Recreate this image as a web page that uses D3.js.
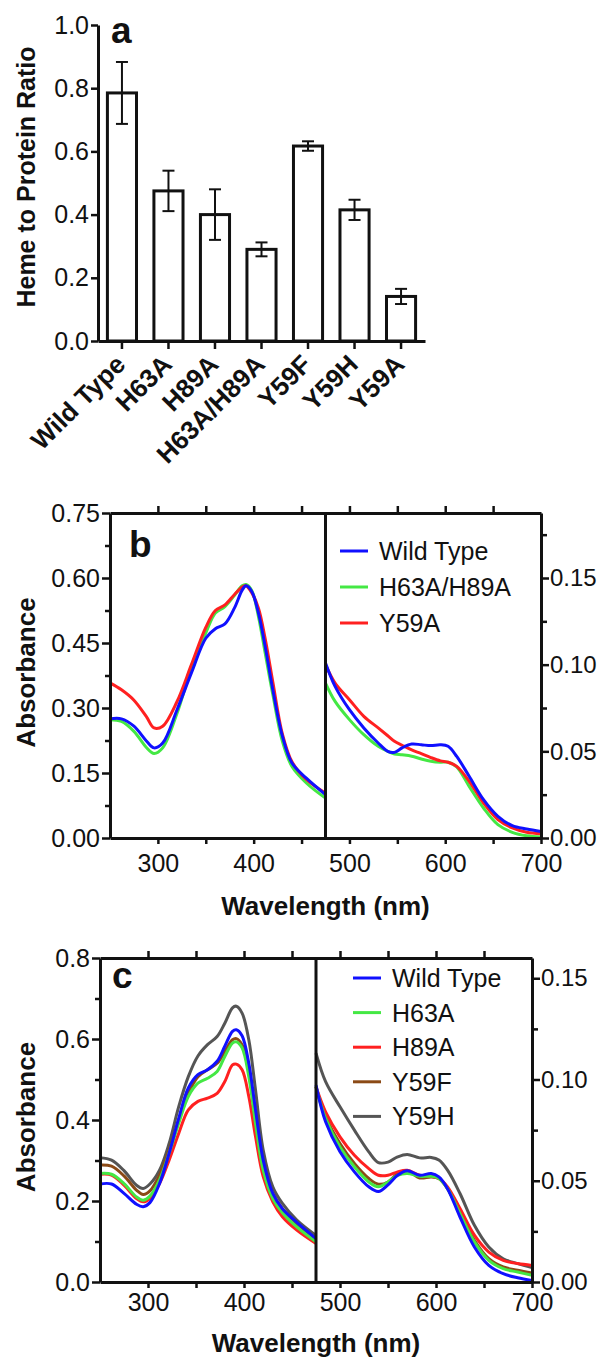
<!DOCTYPE html>
<html><head><meta charset="utf-8">
<script src="https://cdn.jsdelivr.net/npm/d3@7"></script>
<style>
body{margin:0;background:#fff}
svg{display:block}
text{font-family:"Liberation Sans",Arial,Helvetica,sans-serif;fill:#111}
</style></head><body>
<svg id="fig" width="605" height="1357"></svg>
<script>
// ---------- Panel a data ----------
const mutants = ["Wild Type","H63A","H89A","H63A/H89A","Y59F","Y59H","Y59A"];
const hemeRatio = [0.785,0.475,0.40,0.29,0.617,0.415,0.141];
const hemeRatioErr = [0.098,0.064,0.08,0.022,0.015,0.032,0.024];
const ratioTicks = [0,0.2,0.4,0.6,0.8,1.0];

// ---------- Panel b data ----------
const bNames = ["Wild Type","H63A/H89A","Y59A"];
const bColors = ["#1010ff","#44e844","#ff2020"];
const wlB_uv = [250,262,275,288,296,305,320,335,350,360,370,380,388,392,398,405,412,420,430,440,455,475];
const bWT_uv  = [0.275,0.275,0.258,0.224,0.208,0.219,0.296,0.381,0.461,0.483,0.494,0.531,0.572,0.582,0.569,0.519,0.442,0.342,0.235,0.173,0.138,0.100];
const bDbl_uv = [0.273,0.269,0.246,0.209,0.195,0.208,0.288,0.392,0.473,0.519,0.534,0.560,0.582,0.585,0.571,0.511,0.427,0.331,0.223,0.165,0.127,0.092];
const bY59A_uv= [0.358,0.342,0.318,0.280,0.254,0.258,0.315,0.400,0.486,0.525,0.538,0.562,0.579,0.582,0.566,0.530,0.460,0.360,0.240,0.176,0.135,0.104];
const wlB_vis = [475,485,500,515,530,540,547,555,565,575,585,595,603,612,625,640,655,670,685,700];
const bWT_vis  = [0.101,0.0875,0.074,0.0635,0.0548,0.050,0.0494,0.052,0.0542,0.0538,0.0533,0.0538,0.0529,0.0471,0.0356,0.0221,0.0125,0.0071,0.0052,0.0038];
const bDbl_vis = [0.0894,0.0788,0.0683,0.0596,0.0529,0.050,0.0485,0.048,0.0472,0.0456,0.0443,0.0437,0.0437,0.041,0.0298,0.0173,0.0077,0.0033,0.0013,0.0006];
const bY59A_vis= [0.100,0.0894,0.0798,0.0702,0.0635,0.059,0.0558,0.0535,0.0508,0.0487,0.0464,0.0445,0.0437,0.0413,0.0327,0.0202,0.0106,0.0058,0.0033,0.0025];
const bLeftTicks = [0,0.15,0.30,0.45,0.60,0.75];
const bLeftMinor = [0.075,0.225,0.375,0.525,0.675];
const bRightTicks = [0,0.05,0.10,0.15];
const bRightMinor = [0.025,0.075,0.125,0.175];

// ---------- Panel c data ----------
const cNames = ["Wild Type","H63A","H89A","Y59F","Y59H"];
const cColors = ["#1010ff","#44e844","#ff2020","#8b4a16","#555555"];
const wlC_uv = [250,262,275,288,295,302,312,322,332,342,352,362,372,380,388,392,398,405,412,420,430,440,455,475];
const cWT_uv   = [0.242,0.242,0.219,0.192,0.186,0.196,0.243,0.318,0.404,0.479,0.512,0.524,0.545,0.582,0.619,0.623,0.608,0.540,0.425,0.301,0.219,0.181,0.147,0.107];
const cH63A_uv = [0.268,0.266,0.243,0.210,0.202,0.212,0.252,0.318,0.392,0.458,0.491,0.503,0.520,0.557,0.590,0.593,0.578,0.507,0.392,0.276,0.206,0.171,0.136,0.099];
const cH89A_uv = [0.266,0.264,0.239,0.206,0.198,0.206,0.243,0.301,0.367,0.425,0.446,0.454,0.466,0.495,0.536,0.538,0.524,0.458,0.359,0.260,0.198,0.161,0.128,0.095];
const cY59F_uv = [0.289,0.286,0.262,0.227,0.216,0.225,0.264,0.326,0.400,0.466,0.507,0.524,0.540,0.569,0.598,0.601,0.586,0.524,0.408,0.293,0.219,0.181,0.144,0.107];
const cY59H_uv = [0.307,0.301,0.275,0.239,0.231,0.242,0.276,0.342,0.433,0.507,0.558,0.586,0.606,0.639,0.677,0.681,0.664,0.598,0.474,0.326,0.235,0.194,0.153,0.115];
const wlC_vis = [475,485,500,515,530,540,550,560,570,583,595,603,612,625,640,655,670,685,700];
const cWT_vis   = [0.0972,0.0791,0.0643,0.0544,0.047,0.0447,0.048,0.0527,0.0549,0.0527,0.0536,0.0519,0.0461,0.0321,0.0173,0.0082,0.0041,0.0021,0.0008];
const cH63A_vis = [0.0964,0.0808,0.0667,0.0569,0.0494,0.047,0.0494,0.0527,0.0536,0.0522,0.0522,0.0511,0.0461,0.0338,0.0198,0.0107,0.0066,0.0049,0.0033];
const cH89A_vis = [0.0964,0.084,0.0717,0.0626,0.056,0.0527,0.0527,0.0544,0.0552,0.0527,0.0522,0.0511,0.047,0.0363,0.0231,0.0148,0.0107,0.0091,0.0082];
const cY59F_vis = [0.0964,0.0816,0.0684,0.0585,0.0511,0.0483,0.0494,0.0536,0.0549,0.0514,0.0519,0.0511,0.0461,0.0341,0.0206,0.0115,0.0074,0.0058,0.0044];
const cY59H_vis = [0.113,0.0989,0.0865,0.075,0.0643,0.059,0.0592,0.0618,0.063,0.0613,0.0615,0.0602,0.0552,0.0437,0.028,0.0173,0.0115,0.0091,0.0071];
const cLeftTicks = [0,0.2,0.4,0.6,0.8];
const cLeftMinor = [0.1,0.3,0.5,0.7];
const cRightTicks = [0,0.05,0.10,0.15];
const cRightMinor = [0.025,0.075,0.125];

const wlMajor = [300,400,500,600,700];
const wlMinor = [350,450,550,650];
const wlTop = [300,350,400,450,500,550,600,650];
const wlBreak = 475;

const svg = d3.select("#fig");
const INK = "#111";

function styleAxis(sel, fs){
  sel.select(".domain").attr("stroke",INK).attr("stroke-width",3);
  sel.selectAll(".tick line").attr("stroke",INK).attr("stroke-width",2.5);
  sel.selectAll(".tick text").style("font-size",fs+"px").attr("fill",INK);
}

// ================= Panel a =================
(function(){
  const g = svg.append("g");
  const x = d3.scaleBand().domain(mutants).range([98,425]).paddingInner(0.31).paddingOuter(0.17);
  const y = d3.scaleLinear().domain([0,1]).range([341,25]);
  const rows = mutants.map((m,i)=>({m, v:hemeRatio[i], e:hemeRatioErr[i]}));

  g.selectAll("rect.bar").data(rows).join("rect")
    .attr("x",d=>x(d.m)+1.5).attr("width",x.bandwidth()-3)
    .attr("y",d=>y(d.v)).attr("height",d=>y(0)-y(d.v))
    .attr("fill","#fff").attr("stroke",INK).attr("stroke-width",3);

  const cx = d=>x(d.m)+x.bandwidth()/2;
  g.selectAll("line.err").data(rows).join("line")
    .attr("x1",cx).attr("x2",cx).attr("y1",d=>y(d.v-d.e)).attr("y2",d=>y(d.v+d.e))
    .attr("stroke",INK).attr("stroke-width",2);
  ["top","bot"].forEach(k=>{
    g.selectAll("line.cap"+k).data(rows).join("line")
      .attr("x1",d=>cx(d)-6).attr("x2",d=>cx(d)+6)
      .attr("y1",d=>y(k==="top"?d.v+d.e:d.v-d.e)).attr("y2",d=>y(k==="top"?d.v+d.e:d.v-d.e))
      .attr("stroke",INK).attr("stroke-width",2);
  });

  g.append("g").attr("transform","translate(98,0)")
    .call(d3.axisLeft(y).tickValues(ratioTicks).tickSize(7).tickSizeOuter(0).tickPadding(2).tickFormat(d3.format(".1f")))
    .call(s=>styleAxis(s,25));
  g.append("g").attr("transform","translate(0,341)")
    .call(d3.axisBottom(x).tickSize(8).tickSizeOuter(0).tickFormat(""))
    .call(s=>styleAxis(s,25));

  g.selectAll("text.xl").data(mutants).join("text")
    .attr("transform",d=>`translate(${x(d)+x.bandwidth()/2+5},366) rotate(-45)`)
    .attr("text-anchor","end").style("font-weight","bold").style("font-size","26px")
    .text(d=>d);

  g.append("text").attr("transform","translate(35,177) rotate(-90)")
    .attr("text-anchor","middle").style("font-weight","bold").style("font-size","25px")
    .text("Heme to Protein Ratio");
  g.append("text").attr("x",111).attr("y",43).style("font-weight","bold").style("font-size","37px").text("a");
})();

// ================= Spectra panels =================
function drawSpectrum(o){
  const g = svg.append("g");
  const x = d3.scaleLinear().domain([250,700]).range([o.x0,o.x1]);
  const yL = d3.scaleLinear().domain([0,o.leftMax]).range([o.yb,o.yt]);
  const yR = d3.scaleLinear().domain([0,o.rightMax]).range([o.yb,o.yt]);

  // curves
  const curve = d3.curveCatmullRom.alpha(0.5);
  const lineL = d3.line().x(d=>x(d[0])).y(d=>yL(d[1])).curve(curve);
  const lineR = d3.line().x(d=>x(d[0])).y(d=>yR(d[1])).curve(curve);
  o.drawOrder.forEach(i=>{
    const s = o.series[i];
    g.append("path").datum(o.wlUV.map((w,k)=>[w,s.uv[k]]))
      .attr("d",lineL).attr("fill","none").attr("stroke",s.color).attr("stroke-width",3).attr("stroke-linejoin","round");
    g.append("path").datum(o.wlVis.map((w,k)=>[w,s.vis[k]]))
      .attr("d",lineR).attr("fill","none").attr("stroke",s.color).attr("stroke-width",3).attr("stroke-linejoin","round");
  });

  // axes
  g.append("g").attr("transform",`translate(${o.x0},0)`)
    .call(d3.axisLeft(yL).tickValues(o.leftMinor).tickSize(5).tickFormat(""))
    .call(s=>{s.select(".domain").remove(); styleAxis(s,25);});
  g.append("g").attr("transform",`translate(${o.x0},0)`)
    .call(d3.axisLeft(yL).tickValues(o.leftTicks).tickSize(8).tickSizeOuter(0).tickPadding(2).tickFormat(d3.format(o.leftFmt)))
    .call(s=>styleAxis(s,25));
  g.append("g").attr("transform",`translate(${o.x1},0)`)
    .call(d3.axisRight(yR).tickValues(o.rightMinor).tickSize(6).tickFormat(""))
    .call(s=>{s.select(".domain").remove(); styleAxis(s,24);});
  g.append("g").attr("transform",`translate(${o.x1},0)`)
    .call(d3.axisRight(yR).tickValues(o.rightTicks).tickSize(8).tickSizeOuter(0).tickPadding(1).tickFormat(d3.format(".2f")))
    .call(s=>styleAxis(s,24));
  g.append("g").attr("transform",`translate(0,${o.yb})`)
    .call(d3.axisBottom(x).tickValues(wlMinor).tickSize(6).tickFormat(""))
    .call(s=>{s.select(".domain").remove(); styleAxis(s,25);});
  g.append("g").attr("transform",`translate(0,${o.yb})`)
    .call(d3.axisBottom(x).tickValues(wlMajor).tickSize(6).tickSizeOuter(0).tickPadding(o.xPad).tickFormat(d3.format("d")))
    .call(s=>styleAxis(s,25));
  g.append("g").attr("transform",`translate(0,${o.yt})`)
    .call(d3.axisTop(x).tickValues(wlTop).tickSize(7).tickSizeOuter(0).tickFormat(""))
    .call(s=>styleAxis(s,25));
  g.append("line").attr("x1",x(wlBreak)).attr("x2",x(wlBreak)).attr("y1",o.yt).attr("y2",o.yb)
    .attr("stroke",INK).attr("stroke-width",3);

  // legend
  const lg = g.append("g");
  o.series.forEach((s,i)=>{
    const yy = o.legY + i*o.legDy;
    lg.append("line").attr("x1",o.legX).attr("x2",o.legX+28).attr("y1",yy).attr("y2",yy)
      .attr("stroke",s.color).attr("stroke-width",3);
    lg.append("text").attr("x",o.legX+39).attr("y",yy).attr("dy","0.36em")
      .style("font-size","25px").text(s.name);
  });

  // titles
  g.append("text").attr("transform",`translate(35,${(o.yt+o.yb)/2-3}) rotate(-90)`)
    .attr("text-anchor","middle").style("font-weight","bold").style("font-size","26px").text("Absorbance");
  g.append("text").attr("x",(o.x0+o.x1)/2).attr("y",o.xTitleY)
    .attr("text-anchor","middle").style("font-weight","bold").style("font-size","26px").text("Wavelength (nm)");
  g.append("text").attr("x",o.labX).attr("y",o.labY).style("font-weight","bold").style("font-size","37px").text(o.label);
}

drawSpectrum({
  x0:110, x1:541, yt:513, yb:838, leftMax:0.75, rightMax:0.1875,
  leftTicks:bLeftTicks, leftMinor:bLeftMinor, rightTicks:bRightTicks, rightMinor:bRightMinor, leftFmt:".2f",
  wlUV:wlB_uv, wlVis:wlB_vis,
  series:[
    {name:bNames[0], color:bColors[0], uv:bWT_uv, vis:bWT_vis},
    {name:bNames[1], color:bColors[1], uv:bDbl_uv, vis:bDbl_vis},
    {name:bNames[2], color:bColors[2], uv:bY59A_uv, vis:bY59A_vis}
  ],
  drawOrder:[1,2,0],
  legX:340, legY:551, legDy:36, xPad:10,
  xTitleY:915, label:"b", labX:129, labY:557
});

drawSpectrum({
  x0:100, x1:532, yt:958, yb:1282, leftMax:0.8, rightMax:0.16,
  leftTicks:cLeftTicks, leftMinor:cLeftMinor, rightTicks:cRightTicks, rightMinor:cRightMinor, leftFmt:".1f",
  wlUV:wlC_uv, wlVis:wlC_vis,
  series:[
    {name:cNames[0], color:cColors[0], uv:cWT_uv, vis:cWT_vis},
    {name:cNames[1], color:cColors[1], uv:cH63A_uv, vis:cH63A_vis},
    {name:cNames[2], color:cColors[2], uv:cH89A_uv, vis:cH89A_vis},
    {name:cNames[3], color:cColors[3], uv:cY59F_uv, vis:cY59F_vis},
    {name:cNames[4], color:cColors[4], uv:cY59H_uv, vis:cY59H_vis}
  ],
  drawOrder:[4,3,2,1,0],
  legX:353, legY:978, legDy:34.6, xPad:5,
  xTitleY:1352, label:"c", labX:112, labY:988
});
</script>
</body></html>
